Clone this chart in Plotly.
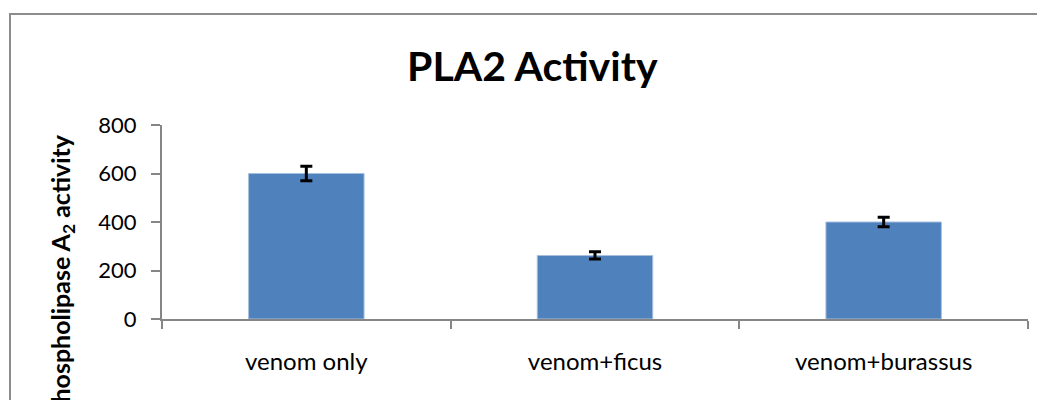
import plotly.graph_objects as go

categories = ["venom only", "venom+ficus", "venom+burassus"]
activity = [600, 262, 400]
errors = [30, 15, 20]
y_ticks = [0, 200, 400, 600, 800]

# page has an 8px body margin; figure is laid out in page coordinates
OFF = 8
W, H = 1045 - OFF, 400 - OFF
PLOT_L, PLOT_R, PLOT_T, PLOT_B = 162, 1028, 125, 319  # page pixels
L, R, T, B = PLOT_L - OFF, 1045 - PLOT_R, PLOT_T - OFF, 400 - PLOT_B
pw, ph = PLOT_R - PLOT_L, PLOT_B - PLOT_T

def px_x(x):
    return (x - PLOT_L) / pw

def px_y(y):
    return (PLOT_B - y) / ph

fig = go.Figure()
fig.add_trace(go.Bar(
    x=categories, y=activity,
    marker=dict(color="#4F81BD", line=dict(color="#A7BFDE", width=1)),
    error_y=dict(type="data", array=errors, visible=True, color="black", thickness=3, width=6),
    width=0.4,
))

axis_color = "#868686"
fig.update_layout(
    width=W, height=H,
    margin=dict(l=L, r=R, t=T, b=B),
    paper_bgcolor="white", plot_bgcolor="white",
    showlegend=False,
    font=dict(family="Lato", color="black"),
    xaxis=dict(
        showgrid=False, zeroline=False, showline=True, linecolor=axis_color, linewidth=2,
        ticks="outside", tickson="boundaries", ticklen=8, tickwidth=2, tickcolor=axis_color,
        tickfont=dict(size=24, family="Lato", color="black"), ticklabelstandoff=20,
    ),
    yaxis=dict(
        range=[0, 800], tickvals=y_ticks, showgrid=False, zeroline=False,
        showline=True, linecolor=axis_color, linewidth=2,
        ticks="outside", ticklen=9, tickwidth=2, tickcolor=axis_color,
        tickfont=dict(size=22, family="Lato", color="black"), ticklabelstandoff=10,
    ),
    shapes=[dict(type="rect", xref="paper", yref="paper",
                 x0=px_x(10), x1=px_x(1100), y0=px_y(14), y1=px_y(460),
                 line=dict(color="#8C8C8C", width=2), fillcolor="rgba(0,0,0,0)", layer="below")],
    annotations=[
        dict(text="<b>PLA2 Activity</b>", xref="paper", yref="paper",
             x=px_x(532), y=px_y(66), xanchor="center", yanchor="middle",
             showarrow=False, font=dict(size=41, family="Lato", color="black")),
        dict(text="<b>Phospholipase A<sub>2</sub> activity</b>", xref="paper", yref="paper",
             x=px_x(62), y=px_y(276), xanchor="center", yanchor="middle", textangle=-90,
             showarrow=False, font=dict(size=25, family="Lato", color="black")),
    ],
)

fig.write_html("out.html")
